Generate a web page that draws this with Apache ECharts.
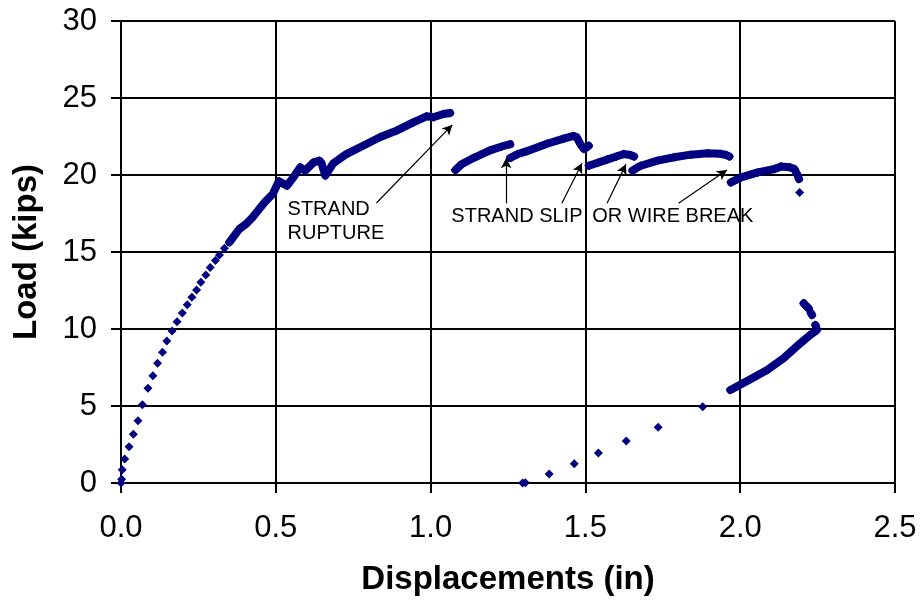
<!DOCTYPE html>
<html>
<head>
<meta charset="utf-8">
<script src="https://cdn.jsdelivr.net/npm/echarts@6/dist/echarts.min.js"></script>
<style>
html,body{margin:0;padding:0;background:#fff;}
#c{width:923px;height:606px;}
</style>
</head>
<body>
<div id="c"></div>
<script>
// ---- Data (displacement in, load kips) ----
var xTicks = [0.0, 0.5, 1.0, 1.5, 2.0, 2.5];
var yTicks = [0, 5, 10, 15, 20, 25, 30];

// sparse initial loading points
var initialLoading = [
  [0,0],[0.002,0.25],[0.004,0.86],[0.012,1.56],[0.026,2.36],[0.04,3.16],[0.055,4.05],[0.069,5.08],
  [0.087,6.15],[0.103,6.97],[0.118,7.77],[0.134,8.49],[0.148,9.22],[0.165,9.87],
  [0.181,10.47],[0.198,11.04],[0.214,11.58],[0.229,12.06],[0.244,12.53],[0.258,13.03],
  [0.274,13.5],[0.288,14.0],[0.305,14.44],[0.318,14.8],[0.334,15.24],[0.35,15.63]
];
// dense recorded segments
var seg1 = [[0.35,15.63],[0.366,16.06],[0.382,16.49],[0.404,16.82],[0.425,17.25],[0.442,17.68],
  [0.464,18.23],[0.49,18.77],[0.51,19.6],[0.536,19.3],[0.557,19.85],[0.579,20.5],[0.595,20.28],
  [0.622,20.82],[0.641,20.93],[0.647,20.8],[0.66,19.96],[0.685,20.74],[0.728,21.36],[0.782,21.9],
  [0.836,22.45],[0.89,22.88],[0.944,23.42],[0.987,23.81],[1.009,23.75],[1.041,23.96],[1.063,24.03]];
var seg2 = [[1.08,20.32],[1.10,20.7],[1.138,21.1],[1.192,21.6],[1.23,21.85],[1.257,22.0]];
var seg3 = [[1.257,21.1],[1.28,21.35],[1.311,21.55],[1.376,22.03],[1.43,22.36],[1.462,22.54],
  [1.472,22.45],[1.484,22.0],[1.495,21.69],[1.505,21.8],[1.511,21.9]];
var seg4 = [[1.511,20.6],[1.54,20.8],[1.57,21.0],[1.60,21.2],[1.624,21.36],[1.645,21.3],[1.657,21.2]];
var seg5 = [[1.652,20.28],[1.665,20.45],[1.679,20.6],[1.733,20.93],[1.787,21.15],[1.84,21.32],
  [1.895,21.41],[1.935,21.38],[1.955,21.3],[1.965,21.2]];
var seg6 = [[1.97,19.52],[2.003,19.85],[2.057,20.17],[2.111,20.39],[2.132,20.55],[2.16,20.5],
  [2.175,20.39],[2.185,20.0],[2.19,19.74]];
var seg7 = [[2.205,11.67],[2.213,11.5],[2.221,11.34]];
var seg8 = [[2.228,11.05],[2.232,10.91]];
var seg9 = [[2.243,10.26],[2.248,9.94],[2.226,9.61],[2.194,9.07],[2.14,8.1],[2.087,7.34],
  [2.033,6.73],[1.979,6.15],[1.968,6.04]];
var isolated = [[2.192,18.87]];
var unloadSparse = [[1.879,4.95],[1.735,3.62],[1.632,2.73],[1.542,1.95],[1.464,1.25],
  [1.383,0.58],[1.306,0.02],[1.297,0.0]];

// annotation arrows: [start, end] in data units
var arrows = [
  [[0.825,18.18],[1.070,23.25]],
  [[1.244,18.16],[1.244,21.08]],
  [[1.424,18.16],[1.489,20.76]],
  [[1.570,18.16],[1.631,20.69]],
  [[1.801,18.16],[1.957,20.32]]
];
var notes = [
  {text:'STRAND', at:[0.538,17.75]},
  {text:'RUPTURE', at:[0.538,16.2]},
  {text:'STRAND SLIP', at:[1.067,17.3]},
  {text:'OR WIRE BREAK', at:[1.522,17.3]}
];

var NAVY = '#000080';
var FONT = "'Liberation Sans', Arial, sans-serif";
var chart = echarts.init(document.getElementById('c'), null, {renderer:'canvas'});

var segments = [seg1,seg2,seg3,seg4,seg5,seg6,seg7,seg8,seg9];
var series = [{
  type:'scatter', data: initialLoading.concat(isolated, unloadSparse),
  symbol:'diamond', symbolSize:9, itemStyle:{color:NAVY, opacity:1}, silent:true,
  markLine:{
    silent:true, symbol:['none','arrow'], symbolSize:[8,10], animation:false,
    label:{show:false},
    lineStyle:{color:'#000', width:1.2, type:'solid', opacity:1},
    data: arrows.map(function(a){ return [{coord:a[0]},{coord:a[1]}]; })
  }
}];
segments.forEach(function(s){
  series.push({
    type:'line', data:s, symbol:'diamond', symbolSize:9, showSymbol:true, showAllSymbol:true,
    itemStyle:{color:NAVY, opacity:1}, lineStyle:{color:NAVY, width:8, cap:'round', join:'round'},
    silent:true, z:3
  });
});

var axisCommon = {
  axisLine:{show:true, lineStyle:{color:'#000', width:2}},
  axisTick:{show:true, length:10, inside:false, lineStyle:{color:'#000', width:2}},
  splitLine:{show:true, lineStyle:{color:'#000', width:2}},
  axisLabel:{color:'#000', fontSize:31, fontFamily:FONT},
  nameTextStyle:{color:'#000', fontSize:33, fontWeight:'bold', fontFamily:FONT}
};

chart.setOption({
  animation:false,
  backgroundColor:'#fff',
  grid:{left:121, right:28, top:21, bottom:123, containLabel:false},
  xAxis: Object.assign({}, axisCommon, {
    type:'value', min:xTicks[0], max:xTicks[xTicks.length-1], interval:xTicks[1]-xTicks[0],
    name:'Displacements (in)', nameLocation:'middle', nameGap:80,
    axisLabel: Object.assign({}, axisCommon.axisLabel, {margin:30, formatter:function(v){return v.toFixed(1);}})
  }),
  yAxis: Object.assign({}, axisCommon, {
    type:'value', min:yTicks[0], max:yTicks[yTicks.length-1], interval:yTicks[1]-yTicks[0],
    name:'Load (kips)', nameLocation:'middle', nameGap:78,
    axisLabel: Object.assign({}, axisCommon.axisLabel, {margin:24})
  }),
  series: series
});

var g = notes.map(function(n){
  var p = chart.convertToPixel({gridIndex:0}, n.at);
  return {type:'text', x:p[0], y:p[1], silent:true, z:10,
    style:{text:n.text, fill:'#000', font:'20px ' + FONT, textVerticalAlign:'middle', textAlign:'left'}};
});
chart.setOption({graphic:g});
</script>
</body>
</html>
